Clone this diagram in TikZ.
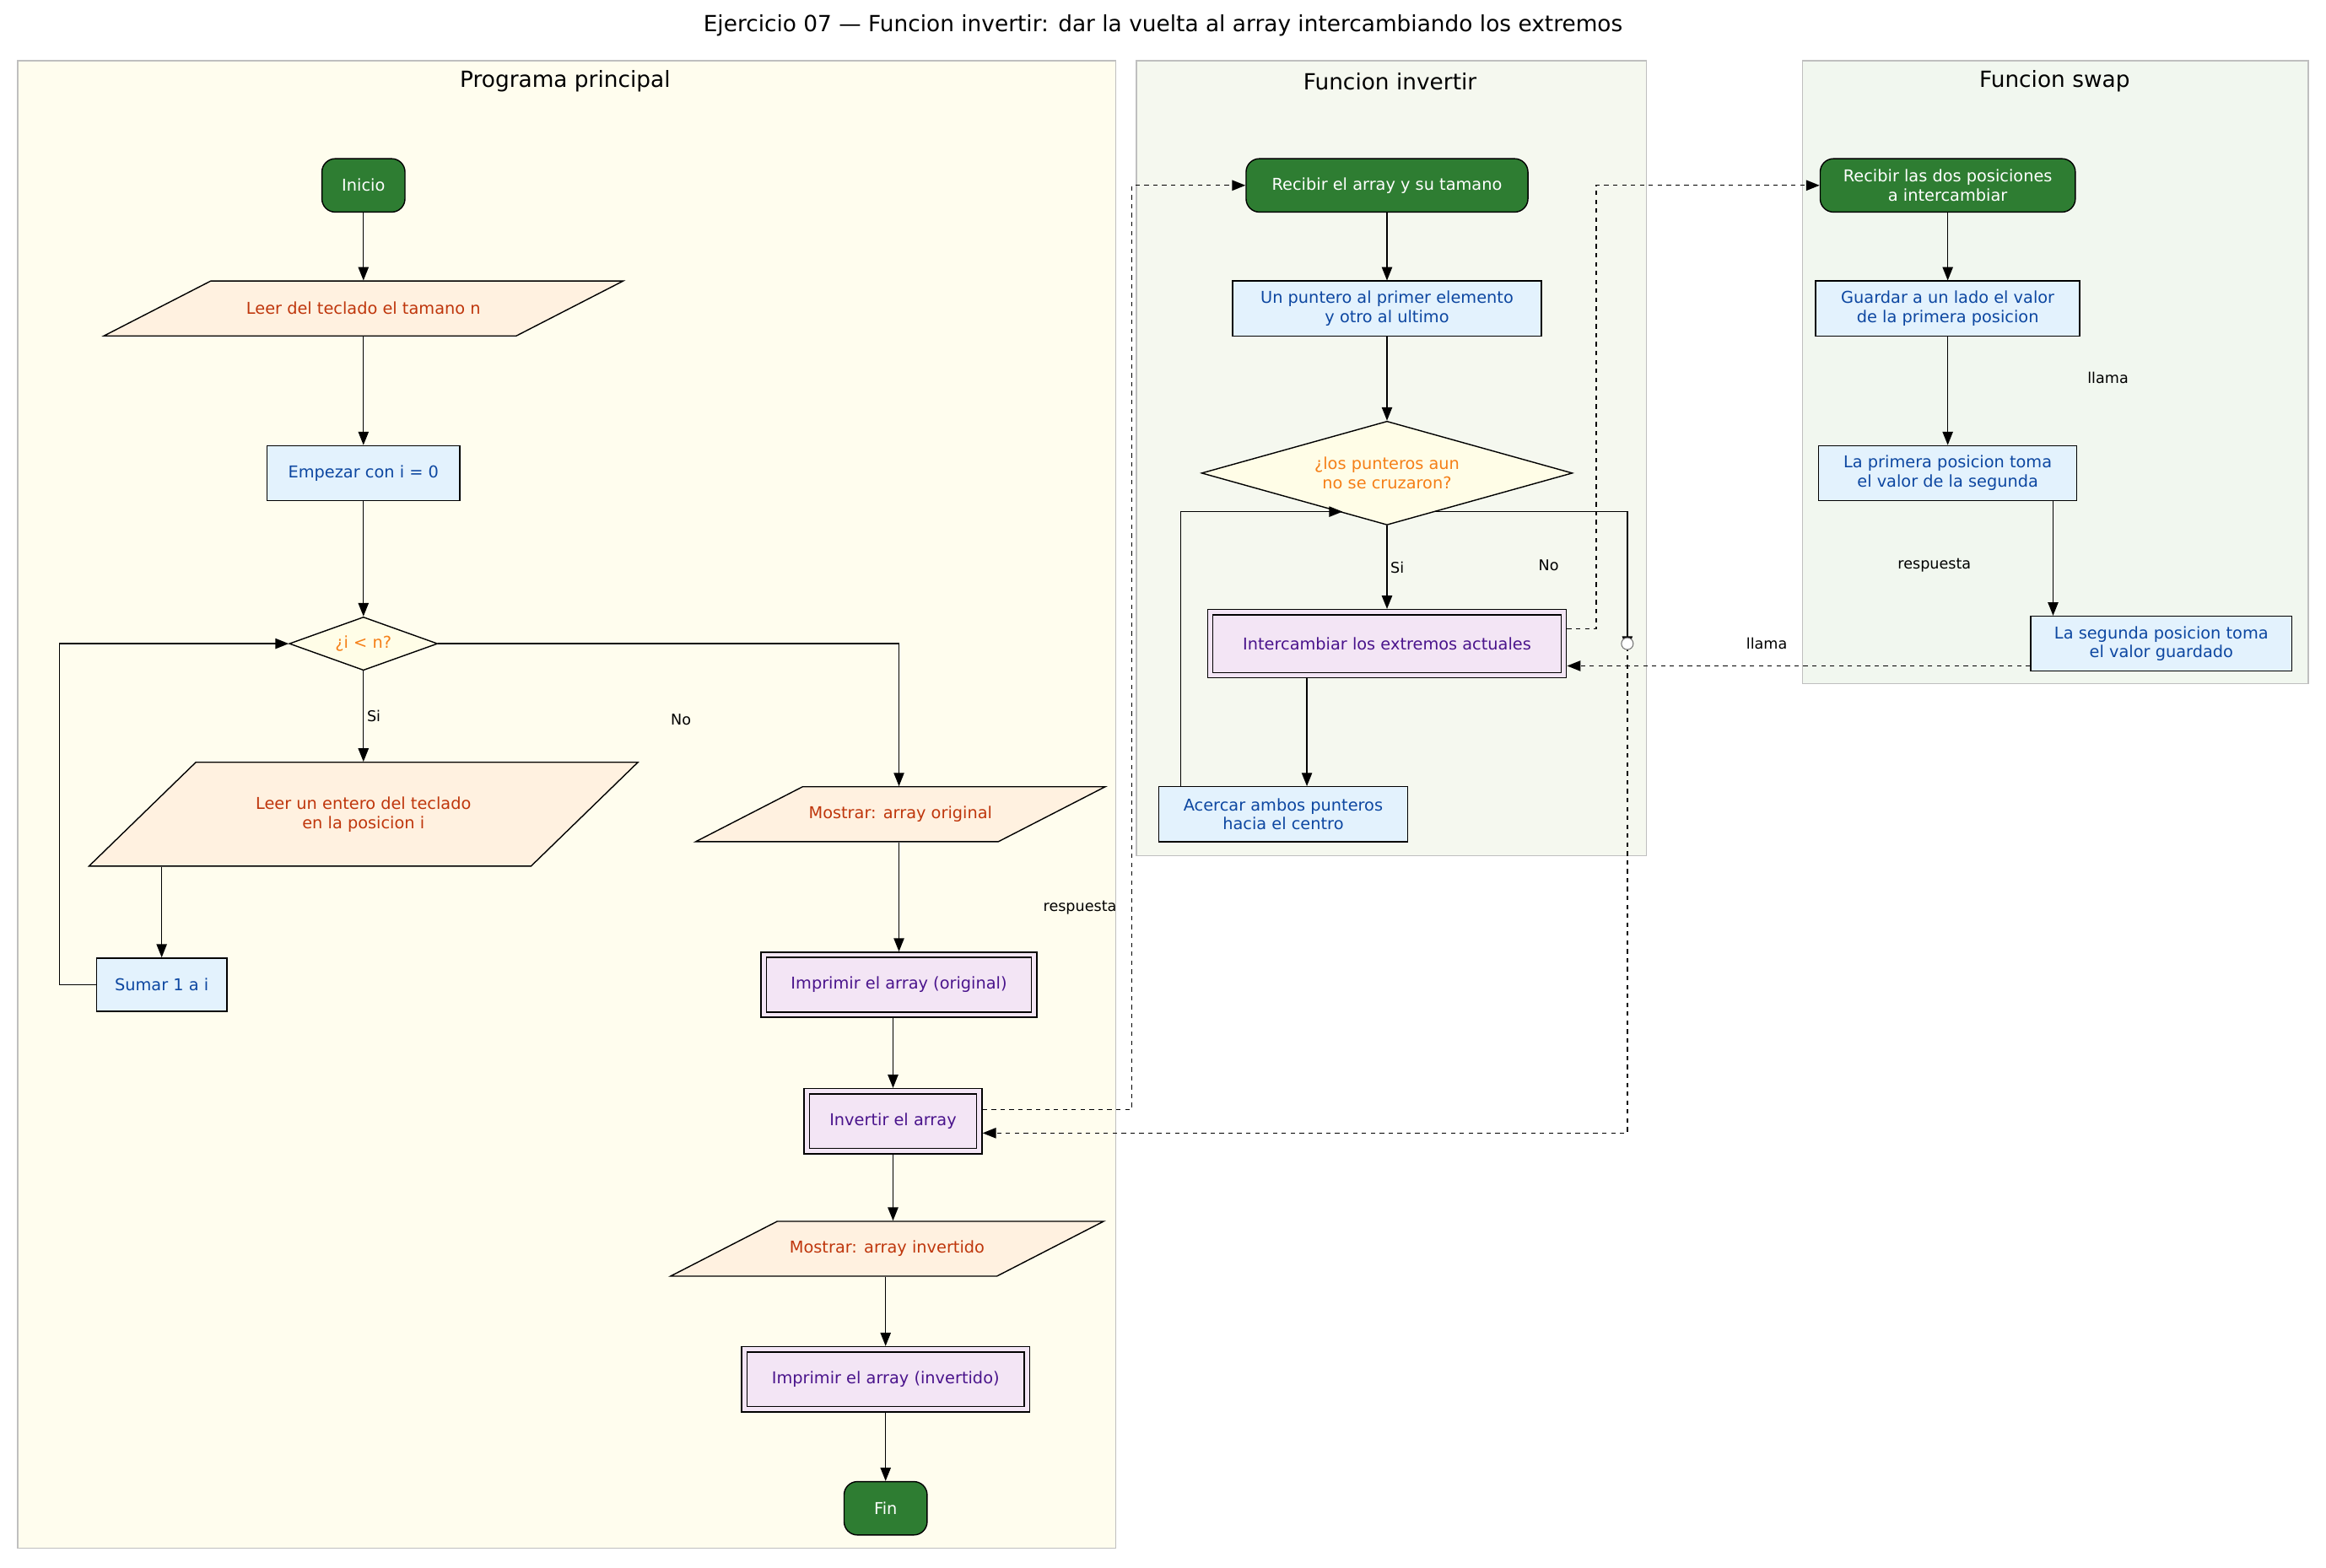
\documentclass[tikz,border=0pt]{standalone}
\usepackage{fontspec}
\setmainfont{DejaVu Sans}
\usetikzlibrary{arrows.meta,shapes.geometric}
\definecolor{gr}{HTML}{2E7D32}
\definecolor{pfill}{HTML}{FFF1E0}\definecolor{ptext}{HTML}{BF360C}
\definecolor{bfill}{HTML}{E3F2FD}\definecolor{btext}{HTML}{0D47A1}
\definecolor{dfill}{HTML}{FFFDE7}\definecolor{dtext}{HTML}{F57F17}
\definecolor{sfill}{HTML}{F3E5F5}\definecolor{stext}{HTML}{4A148C}
\definecolor{c1}{HTML}{FFFDEE}\definecolor{c2}{HTML}{F5F8EF}\definecolor{c3}{HTML}{F1F7EF}
\begin{document}
\begin{tikzpicture}[x=1pt,y=-1pt,line width=0.8pt,
  every node/.style={font=\fontsize{11}{13}\selectfont,align=center,inner sep=0pt},
  term/.style={draw,fill=gr,text=white,rounded corners=9pt,minimum height=36pt},
  proc/.style={draw,fill=bfill,text=btext,minimum height=37pt},
  io/.style={text=ptext},
  dec/.style={draw,diamond,aspect=2.8,fill=dfill,text=dtext},
  sub/.style={draw,fill=sfill,text=stext,minimum height=44pt},
  arr/.style={-{Triangle[length=9pt,width=7pt]}},
  lbl/.style={font=\fontsize{10}{12}\selectfont},
  clus/.style={draw=black!25},
  ]
\useasboundingbox (0,0) rectangle (1568,1057);
\fill[white] (0,0) rectangle (1568,1057);
\newcommand{\innerbox}[1]{\draw ([shift={(4,4)}]#1.north west) rectangle ([shift={(-4,-4)}]#1.south east);}
\node at (784,17) {\fontsize{15}{17}\selectfont Ejercicio 07 — Funcion invertir: dar la vuelta al array intercambiando los extremos};
\filldraw[clus,fill=c1] (12,41) rectangle (752,1044);
\filldraw[clus,fill=c2] (766,41) rectangle (1110,577);
\filldraw[clus,fill=c3] (1215,41) rectangle (1556,461);
\node at (381,55) {\fontsize{15}{17}\selectfont Programa principal};
\node at (937,55) {\fontsize{15}{17}\selectfont Funcion invertir};
\node at (1385,55) {\fontsize{15}{17}\selectfont Funcion swap};
\newcommand{\para}[6]{%
  \filldraw[fill=pfill] ({#2-#4+72},{#3-#5}) -- ({#2+#4},{#3-#5}) -- ({#2+#4-72},{#3+#5}) -- ({#2-#4},{#3+#5}) -- cycle;
  \node[io,minimum width={2*#4},minimum height={2*#5}] (#1) at (#2,#3) {#6};}
% main
\node[term,minimum width=56pt] (ini) at (245,125) {Inicio};
\para{leern}{245}{208}{175}{18.5}{Leer del teclado el tamano n}
\node[proc,minimum width=130pt] (emp) at (245,319) {Empezar con i = 0};
\node[dec,minimum width=100pt,minimum height=36pt] (d1) at (245,434) {¿i < n?};
\para{leere}{245}{549}{185}{35}{Leer un entero del teclado\\en la posicion i}
\node[proc,minimum width=88pt,minimum height=36pt] (sum) at (109,664) {Sumar 1 a i};
\para{most}{607}{549}{138}{18.5}{Mostrar: array original}
\node[sub,minimum width=186pt] (impo) at (606,664) {Imprimir el array (original)};\innerbox{impo}
\node[sub,minimum width=120pt] (inv) at (602,756) {Invertir el array};\innerbox{inv}
\para{mosti}{598}{842}{146}{18.5}{Mostrar: array invertido}
\node[sub,minimum width=194pt] (impi) at (597,930) {Imprimir el array (invertido)};\innerbox{impi}
\node[term,minimum width=56pt] (fin) at (597,1017) {Fin};
\draw[arr] (ini) -- (leern);
\draw[arr] (leern) -- (emp);
\draw[arr] (emp) -- (d1);
\draw[arr] (d1) -- (leere) node[lbl,pos=0.5,right=2pt] {Si};
\draw[arr] (leere.south -| sum) -- (sum);
\draw[arr] (sum.west) -- (40,664) -- (40,434) -- (d1.west);
\draw[arr] (d1.east) -- (606,434) -- (most.north -| 606,0);
\node[lbl] at (459,485) {No};
\draw[arr] (most.south -| 606,0) -- (impo);
\draw[arr] (impo.south -| inv) -- (inv);
\draw[arr] (inv.south -| 602,0) -- (mosti.north -| 602,0);
\draw[arr] (mosti.south -| impi) -- (impi);
\draw[arr] (impi) -- (fin);
% invertir
\node[term,minimum width=190pt] (rec) at (935,125) {Recibir el array y su tamano};
\node[proc,minimum width=208pt] (pun) at (935,208) {Un puntero al primer elemento\\y otro al ultimo};
\node[dec,minimum width=250pt,minimum height=70pt,aspect=3.6] (d2) at (935,319) {¿los punteros aun\\no se cruzaron?};
\node[sub,minimum width=242pt,minimum height=46pt] (int) at (935,434) {Intercambiar los extremos actuales};\innerbox{int}
\node[proc,minimum width=168pt] (ace) at (865,549) {Acercar ambos punteros\\hacia el centro};
\coordinate (circ) at (1097,434);
\draw[arr] (rec) -- (pun);
\draw[arr] (pun) -- (d2);
\draw[arr] (d2) -- (int) node[lbl,pos=0.5,right=2pt] {Si};
\draw[arr] (int.south -| 881,0) -- (ace.north -| 881,0);
\draw[arr] (ace.north -| 796,0) -- (796,345) -- (905,345);
\draw[arr] (967,345) -- (1097,345) -- ([yshift=-4pt]circ);
\node[lbl] at (1044,381) {No};
\draw[arr,dashed] (inv.east |- 0,748) -- (763,748) -- (763,125) -- (rec.west);
\draw[arr,dashed] ([yshift=4pt]circ) -- (1097,764) -- (inv.east |- 0,764);
\draw[black!55,fill=white,line width=0.6pt] (circ) circle (4pt);
\node[lbl] at (728,612) {respuesta};
% swap
\node[term,minimum width=172pt] (rec2) at (1313,125) {Recibir las dos posiciones\\a intercambiar};
\node[proc,minimum width=178pt] (gua) at (1313,208) {Guardar a un lado el valor\\de la primera posicion};
\node[proc,minimum width=174pt] (pri) at (1313,319) {La primera posicion toma\\el valor de la segunda};
\node[proc,minimum width=176pt] (seg) at (1457,434) {La segunda posicion toma\\el valor guardado};
\draw[arr] (rec2) -- (gua);
\draw[arr] (gua) -- (pri);
\draw[arr] (pri.south -| 1384,0) -- (seg.north -| 1384,0);
\draw[arr,dashed] (int.east |- 0,424) -- (1076,424) -- (1076,125) -- (rec2.west);
\draw[arr,dashed] (seg.west |- 0,449) -- (int.east |- 0,449);
\node[lbl] at (1191,434) {llama};
\node[lbl] at (1421,255) {llama};
\node[lbl] at (1304,381) {respuesta};
\end{tikzpicture}
\end{document}
